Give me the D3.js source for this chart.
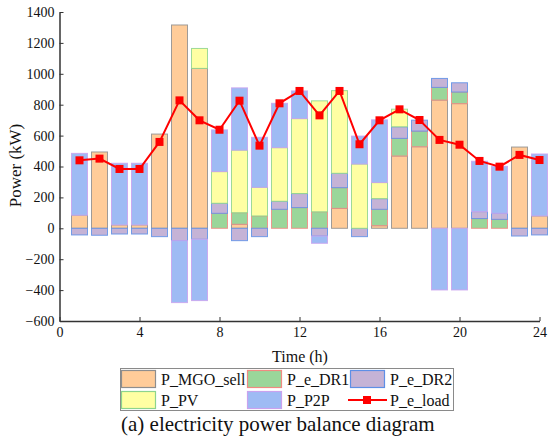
<!DOCTYPE html>
<html>
<head>
<meta charset="utf-8">
<script src="https://cdn.jsdelivr.net/npm/d3@7"></script>
<style>
  html, body { margin: 0; padding: 0; background: #fff; }
  svg { display: block; }
</style>
</head>
<body>
<svg id="chart" width="548" height="440"></svg>
<script>
// Hourly electricity balance (kW)
const hours = d3.range(1, 25);
const mgoSell = [85, 494, 22, 22, 610, 1316, 1035, 0, 26, 0, 0, 0, 0, 129, 0, 17, 468, 528, 830, 807, 0, 0, 526, 80];
const eDR1    = [0, 0, 0, 0, 0, 0, 0, 97, 75, 80, 123, 134, 107, 134, 0, 106, 114, 101, 82, 75, 63, 58, 0, 0];
const eDR2    = [-43, -45, -37, -37, -54, -80, -71, 65, -80, -54, 52, 91, -50, 93, -54, 69, 75, 71, 58, 60, 45, 39, -50, -43];
const pv      = [0, 0, 0, 0, 0, 0, 129, 205, 405, 185, 347, 485, 718, 535, 416, 104, 114, 0, 0, 0, 0, 0, 0, 0];
const p2p     = [400, 0, 399, 399, 0, -401, -397, 270, 403, 324, 287, 179, -47, 0, 181, 406, 0, 0, -399, -399, 326, 304, 0, 401];
const eLoad   = [440, 451, 384, 384, 559, 828, 699, 638, 826, 535, 809, 889, 731, 889, 544, 699, 770, 701, 572, 541, 436, 399, 475, 442];

const xTicks = [0, 4, 8, 12, 16, 20, 24];
const yTicks = [-600, -400, -200, 0, 200, 400, 600, 800, 1000, 1200, 1400];

const seriesNames = ["P_MGO_sell", "P_e_DR1", "P_e_DR2", "P_PV", "P_P2P"];
const seriesValues = [mgoSell, eDR1, eDR2, pv, p2p];
const fills   = ["#FFCC99", "#9AD69A", "#C5B3D6", "#FFFFA3", "#9EBBF4"];
const strokes = ["#8E8E8E", "#F08A82", "#5E8FE6", "#8DD48D", "#C9A2EE"];

const FONT = "Liberation Serif";

const rows = hours.map((h, i) => {
  const r = { hour: h };
  seriesNames.forEach((n, k) => r[n] = seriesValues[k][i]);
  return r;
});

const svg = d3.select("#chart");
const x = d3.scaleLinear().domain([0, 24]).range([59.5, 539.5]);
const y = d3.scaleLinear().domain([-600, 1400]).range([321, 12]);
const barW = 16;

const stack = d3.stack().keys(seriesNames).offset(d3.stackOffsetDiverging);
const layers = stack(rows);

const gBars = svg.append("g");
layers.forEach((layer, k) => {
  gBars.append("g")
    .selectAll("rect")
    .data(layer.filter(d => d[1] !== d[0]))
    .join("rect")
    .attr("x", d => x(d.data.hour) - barW / 2)
    .attr("width", barW)
    .attr("y", d => y(Math.max(d[0], d[1])))
    .attr("height", d => Math.abs(y(d[0]) - y(d[1])))
    .attr("fill", fills[k])
    .attr("stroke", strokes[k])
    .attr("stroke-width", 1)
    .attr("stroke-opacity", 0.85);
});

// Load curve
const line = d3.line().x((d, i) => x(hours[i])).y(d => y(d));
svg.append("path")
  .datum(eLoad)
  .attr("d", line)
  .attr("fill", "none")
  .attr("stroke", "#FF0000")
  .attr("stroke-width", 2);
svg.append("g").selectAll("rect")
  .data(eLoad)
  .join("rect")
  .attr("x", (d, i) => x(hours[i]) - 4)
  .attr("y", d => y(d) - 4)
  .attr("width", 8)
  .attr("height", 8)
  .attr("fill", "#FF0000");

// Axes (ticks pointing inward), text styled by hand
const xAxis = svg.append("g")
  .attr("transform", `translate(0,${y(-600)})`)
  .call(d3.axisBottom(x).tickValues(xTicks).tickFormat(d3.format("d"))
    .tickSizeInner(-4).tickSizeOuter(0).tickPadding(6));
const yAxis = svg.append("g")
  .attr("transform", `translate(${x(0)},0)`)
  .call(d3.axisLeft(y).tickValues(yTicks).tickFormat(d3.format("d"))
    .tickSizeInner(-4).tickSizeOuter(0).tickPadding(5));
[xAxis, yAxis].forEach(g => {
  g.attr("font-family", FONT).attr("font-size", 14);
  g.select(".domain").attr("stroke", "#333").attr("stroke-width", 1.5);
  g.selectAll(".tick line").attr("stroke", "#333").attr("stroke-width", 1);
  g.selectAll(".tick text").attr("font-family", FONT).attr("font-size", 14).attr("fill", "#111");
});

const txt = svg.append("g").attr("font-family", FONT).attr("fill", "#111");
txt.append("text")
  .attr("x", 300).attr("y", 362)
  .attr("text-anchor", "middle")
  .attr("font-family", FONT).attr("font-size", 16)
  .text("Time (h)");
txt.append("text")
  .attr("transform", `translate(21,165.5) rotate(-90)`)
  .attr("text-anchor", "middle")
  .attr("font-family", FONT).attr("font-size", 17)
  .text("Power (kW)");

// Legend
const leg = svg.append("g").attr("font-family", FONT);
leg.append("rect")
  .attr("x", 120.5).attr("y", 368.5).attr("width", 333).attr("height", 42)
  .attr("fill", "#fff").attr("stroke", "#8a8a8a").attr("stroke-width", 1);
const legItems = [
  { name: "P_MGO_sell", k: 0, col: 0, row: 0 },
  { name: "P_e_DR1", k: 1, col: 1, row: 0 },
  { name: "P_e_DR2", k: 2, col: 2, row: 0 },
  { name: "P_PV", k: 3, col: 0, row: 1 },
  { name: "P_P2P", k: 4, col: 1, row: 1 },
  { name: "P_e_load", k: -1, col: 2, row: 1 }
];
const colX = [121, 247, 350];
const rowY = [370, 391];
legItems.forEach(it => {
  const gx = colX[it.col], gy = rowY[it.row];
  if (it.k >= 0) {
    leg.append("rect")
      .attr("x", gx + 0.5).attr("y", gy + 0.5).attr("width", 34).attr("height", 17)
      .attr("fill", fills[it.k]).attr("stroke", strokes[it.k]).attr("stroke-width", 1.2);
  } else {
    leg.append("line")
      .attr("x1", gx - 2).attr("x2", gx + 37).attr("y1", gy + 9).attr("y2", gy + 9)
      .attr("stroke", "#FF0000").attr("stroke-width", 2);
    leg.append("rect")
      .attr("x", gx + 13).attr("y", gy + 5).attr("width", 8).attr("height", 8)
      .attr("fill", "#FF0000");
  }
  leg.append("text")
    .attr("x", gx + 40).attr("y", gy + 15)
    .attr("font-family", FONT).attr("font-size", 16).attr("fill", "#111")
    .text(it.name);
});

txt.append("text")
  .attr("x", 121).attr("y", 431)
  .attr("font-family", FONT).attr("font-size", 21)
  .text("(a) electricity power balance diagram");
</script>
</body>
</html>
